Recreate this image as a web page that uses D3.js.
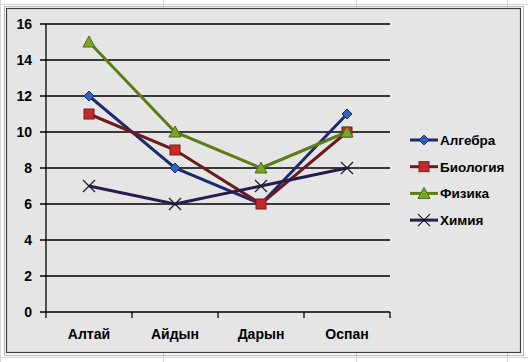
<!DOCTYPE html>
<html>
<meta charset="utf-8"/>
<head>
  <style>
    body { margin: 0; background: #fff; }
    text { font-family: "Liberation Sans", Arial, sans-serif; font-weight: bold; }
  </style>
</head>
<body>
<svg width="528" height="362"></svg>
<script src="https://d3js.org/d3.v7.min.js"></script>
<script>
// data
var students = ["Алтай", "Айдын", "Дарын", "Оспан"];
var algebra  = [12, 8, 6, 11];
var biology  = [11, 9, 6, 10];
var physics  = [15, 10, 8, 10];
var chemistry = [7, 6, 7, 8];
var yTicks = [0, 2, 4, 6, 8, 10, 12, 14, 16];

var series = [
  {name: "Алгебра",  values: algebra,   line: "#1c2b6e", marker: "#2f62b8", shape: "diamond"},
  {name: "Биология", values: biology,   line: "#6e1a1c", marker: "#c42a2a", shape: "square"},
  {name: "Физика",   values: physics,   line: "#5b7d17", marker: "#79a52b", shape: "triangle"},
  {name: "Химия",    values: chemistry, line: "#2a1b4d", marker: "#1a1a2a", shape: "x"}
];

var svg = d3.select("svg");

// faint spreadsheet cells behind the chart
var cells = svg.append("g").attr("stroke", "#d4d4d4").attr("stroke-width", 1);
[0, 163, 356, 507].forEach(function(x) {
  cells.append("line").attr("x1", x + 0.5).attr("x2", x + 0.5).attr("y1", 0).attr("y2", 362);
});
[4, 357].forEach(function(y) {
  cells.append("line").attr("x1", 0).attr("x2", 528).attr("y1", y + 0.5).attr("y2", y + 0.5);
});

// chart area
svg.append("rect").attr("x", 4.5).attr("y", 6.5).attr("width", 519).attr("height", 349)
  .attr("fill", "none").attr("stroke", "#b8b8b8");
svg.append("rect").attr("x", 6.5).attr("y", 8.5).attr("width", 514).attr("height", 344)
  .attr("fill", "#e5e5e5").attr("stroke", "#404040").attr("stroke-width", 1.2);

var x = d3.scaleBand().domain(students).range([46, 390]);
var y = d3.scaleLinear().domain([0, 16]).range([312, 24]);

// gridlines
svg.append("g").selectAll("line").data(yTicks).enter().append("line")
  .attr("x1", 40).attr("x2", 390)
  .attr("y1", d => y(d)).attr("y2", d => y(d))
  .attr("stroke", "#000").attr("stroke-width", 1.3);

// y axis
svg.append("line").attr("x1", 46).attr("x2", 46).attr("y1", 24).attr("y2", 312)
  .attr("stroke", "#000").attr("stroke-width", 1.3);
svg.append("g").selectAll("text").data(yTicks).enter().append("text")
  .attr("x", 32).attr("y", d => y(d) + 5)
  .attr("text-anchor", "end").attr("font-size", 14)
  .text(d => d);

// x ticks
var xt = [46].concat(students.map(s => x(s) + x.bandwidth()));
svg.append("g").selectAll("line").data(xt).enter().append("line")
  .attr("x1", d => d).attr("x2", d => d).attr("y1", 312).attr("y2", 318)
  .attr("stroke", "#000").attr("stroke-width", 1.3);
svg.append("g").selectAll("text").data(students).enter().append("text")
  .attr("x", d => x(d) + x.bandwidth() / 2).attr("y", 339)
  .attr("text-anchor", "middle").attr("font-size", 14)
  .text(d => d);

function drawMarker(g, shape, fill) {
  if (shape == "diamond") {
    g.append("path").attr("d", "M0,-5L5,0L0,5L-5,0Z").attr("fill", fill).attr("stroke", "#1c2b6e").attr("stroke-width", 1);
  } else if (shape == "square") {
    g.append("rect").attr("x", -5).attr("y", -5).attr("width", 10).attr("height", 10)
      .attr("fill", fill).attr("stroke", "#7a1a1a").attr("stroke-width", 1);
  } else if (shape == "triangle") {
    g.append("path").attr("d", "M0,-6L6,5L-6,5Z").attr("fill", fill).attr("stroke", "#4d6b12").attr("stroke-width", 1);
  } else {
    g.append("path").attr("d", "M-6,-6L6,6M-6,6L6,-6").attr("stroke", fill).attr("stroke-width", 1.2);
  }
}

var line = d3.line()
  .x((d, i) => x(students[i]) + x.bandwidth() / 2)
  .y(d => y(d));

series.forEach(function(s) {
  svg.append("path").datum(s.values).attr("d", line)
    .attr("fill", "none").attr("stroke", s.line).attr("stroke-width", 3);
});
series.forEach(function(s) {
  s.values.forEach(function(v, i) {
    var g = svg.append("g").attr("transform", "translate(" + (x(students[i]) + x.bandwidth() / 2) + "," + y(v) + ")");
    drawMarker(g, s.shape, s.marker);
  });
});

// legend
var legend = svg.append("g").selectAll("g").data(series).enter().append("g")
  .attr("transform", (d, i) => "translate(0," + (140 + i * 26.7) + ")");
legend.append("line").attr("x1", 410).attr("x2", 438).attr("y1", 0).attr("y2", 0)
  .attr("stroke", d => d.line).attr("stroke-width", 3);
legend.each(function(d) {
  var g = d3.select(this).append("g").attr("transform", "translate(424,0)");
  drawMarker(g, d.shape, d.marker);
});
legend.append("text").attr("x", 440).attr("y", 5).attr("font-size", 13.5)
  .text(d => d.name);
</script>
</body>
</html>
